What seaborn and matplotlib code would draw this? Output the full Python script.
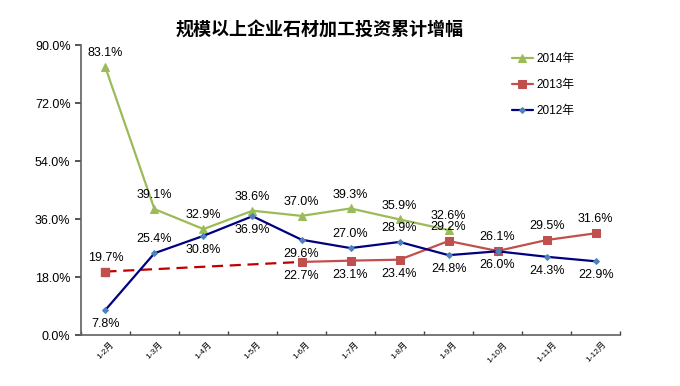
import matplotlib
matplotlib.use("Agg")
import matplotlib.pyplot as plt
import seaborn as sns
import numpy as np
import pandas as pd
from matplotlib.ticker import FuncFormatter

months = ["1-2月", "1-3月", "1-4月", "1-5月", "1-6月", "1-7月", "1-8月", "1-9月", "1-10月", "1-11月", "1-12月"]
s2014 = [83.1, 39.1, 32.9, 38.6, 37.0, 39.3, 35.9, 32.6, None, None, None]
s2013 = [19.7, None, None, None, 22.7, 23.1, 23.4, 29.2, 26.1, 29.5, 31.6]
s2012 = [7.8, 25.4, 30.8, 36.9, 29.6, 27.0, 28.9, 24.8, 26.0, 24.3, 22.9]
yticks = [0, 18, 36, 54, 72, 90]
title = "规模以上企业石材加工投资累计增幅"

# label placement: +1 above, -1 below
pos2014 = [1] * 8
pos2013 = [1, 0, 0, 0, -1, -1, -1, 1, 1, 1, 1]
pos2012 = [-1, 1, -1, -1, -1, 1, 1, -1, -1, -1, -1]

sns.set_theme(style="white")
plt.rcParams['font.family'] = ['Liberation Sans', 'Noto Sans CJK SC', 'DejaVu Sans']
plt.rcParams['axes.unicode_minus'] = False
plt.rcParams['text.color'] = 'black'
plt.rcParams['xtick.color'] = 'black'
plt.rcParams['ytick.color'] = 'black'

fig = plt.figure(figsize=(6.8, 3.86), dpi=100)
ax = fig.add_axes([0.119, 0.132, 0.793, 0.751])

idx = np.arange(len(months))
df = pd.DataFrame({"x": idx, "2014年": s2014, "2013年": s2013, "2012年": s2012})

c14, c13, c12 = "#9BBB59", "#C0504D", "#000080"

d14 = df.dropna(subset=["2014年"])
sns.lineplot(data=d14, x="x", y="2014年", ax=ax, color=c14, lw=1.6, marker="^",
             markersize=6, markeredgecolor=c14, label="2014年")

d13 = df.dropna(subset=["2013年"])
solid13 = d13[d13["x"] >= 4]
dash13 = d13[d13["x"] <= 4]
sns.lineplot(data=dash13, x="x", y="2013年", ax=ax, color="#C00000", lw=1.6,
             linestyle=(0, (5, 3)), legend=False)
sns.lineplot(data=solid13, x="x", y="2013年", ax=ax, color=c13, lw=1.6, marker="s",
             markersize=6, markeredgecolor=c13, label="2013年")
ax.plot(d13["x"].iloc[:1], d13["2013年"].iloc[:1], marker="s", ms=6, color=c13, ls="none")

sns.lineplot(data=df, x="x", y="2012年", ax=ax, color=c12, lw=1.6, marker="D",
             markersize=3, markerfacecolor="#4F81BD", markeredgecolor="#4F81BD", label="2012年")

def annotate(vals, poss):
    for i, (v, p) in enumerate(zip(vals, poss)):
        if v is None or p == 0:
            continue
        off = 10 if p > 0 else -10
        ax.annotate(f"{v:.1f}%", (i, v), xytext=(0, off), textcoords="offset points",
                    ha="center", va="center", fontsize=9, family="Liberation Sans", color="black")

annotate(s2014, pos2014)
annotate(s2013, pos2013)
annotate(s2012, pos2012)

ax.set_xlim(-0.5, 10.5)
ax.set_ylim(0, 90)
ax.set_yticks(yticks)
ax.yaxis.set_major_formatter(FuncFormatter(lambda v, _: f"{v:.1f}%"))
ax.set_xticks(idx)
ax.set_xticklabels(months, rotation=45, fontsize=6)
ax.set_xticks(np.arange(-0.5, 11, 1), minor=True)
ax.tick_params(axis="x", which="major", length=0, pad=4)
ax.tick_params(axis="x", which="minor", length=3, color="#404040", direction="in", bottom=True)
ax.tick_params(axis="y", length=4, color="#404040", direction="out", left=True, labelsize=9)
for lab in ax.get_yticklabels():
    lab.set_family("Liberation Sans")
ax.set_xlabel("")
ax.set_ylabel("")
for s in ["top", "right"]:
    ax.spines[s].set_visible(False)
for s in ["left", "bottom"]:
    ax.spines[s].set_color("#606060")
    ax.spines[s].set_linewidth(1.2)

leg = ax.legend(loc="upper right", bbox_to_anchor=(0.935, 1.01), frameon=False, fontsize=8.5,
                handlelength=1.8, handletextpad=0.3, labelspacing=1.2)

fig.text(0.47, 0.922, title, ha="center", va="center", fontsize=13, fontweight="bold",
         family="Noto Sans CJK SC", color="black")

fig.savefig("out.png", dpi=100)
